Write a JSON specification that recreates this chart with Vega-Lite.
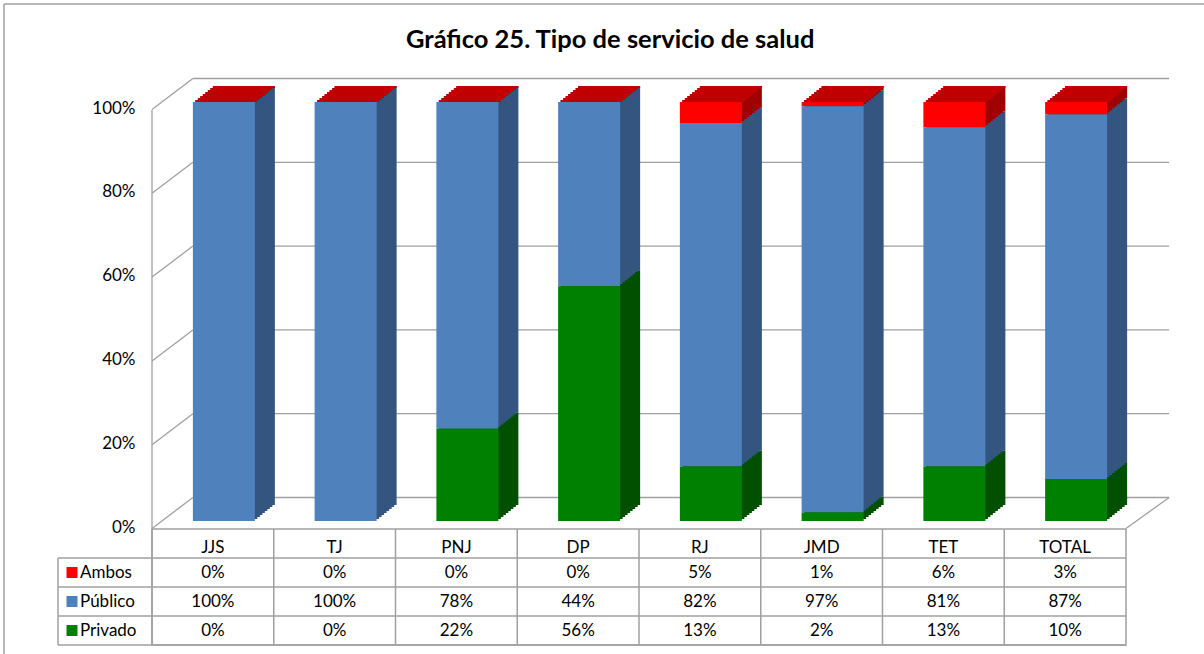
{
  "$schema": "https://vega.github.io/schema/vega-lite/v6.json",
  "padding": {"left": 2, "top": 3, "right": 0, "bottom": 0},
  "background": "white",
  "bounds": "flush",
  "title": {"text": "Gráfico 25. Tipo de servicio de salud", "font": "Lato", "fontSize": 25.5, "fontWeight": "bold", "color": "black", "anchor": "middle", "offset": -50, "dx": 5},
  "datasets": {
    "tabla": [
      {"cat": "JJS", "serie": "Ambos", "orden": 3, "valor": 0},
      {"cat": "JJS", "serie": "Público", "orden": 2, "valor": 1},
      {"cat": "JJS", "serie": "Privado", "orden": 1, "valor": 0},
      {"cat": "TJ", "serie": "Ambos", "orden": 3, "valor": 0},
      {"cat": "TJ", "serie": "Público", "orden": 2, "valor": 1},
      {"cat": "TJ", "serie": "Privado", "orden": 1, "valor": 0},
      {"cat": "PNJ", "serie": "Ambos", "orden": 3, "valor": 0},
      {"cat": "PNJ", "serie": "Público", "orden": 2, "valor": 0.78},
      {"cat": "PNJ", "serie": "Privado", "orden": 1, "valor": 0.22},
      {"cat": "DP", "serie": "Ambos", "orden": 3, "valor": 0},
      {"cat": "DP", "serie": "Público", "orden": 2, "valor": 0.44},
      {"cat": "DP", "serie": "Privado", "orden": 1, "valor": 0.56},
      {"cat": "RJ", "serie": "Ambos", "orden": 3, "valor": 0.05},
      {"cat": "RJ", "serie": "Público", "orden": 2, "valor": 0.82},
      {"cat": "RJ", "serie": "Privado", "orden": 1, "valor": 0.13},
      {"cat": "JMD", "serie": "Ambos", "orden": 3, "valor": 0.01},
      {"cat": "JMD", "serie": "Público", "orden": 2, "valor": 0.97},
      {"cat": "JMD", "serie": "Privado", "orden": 1, "valor": 0.02},
      {"cat": "TET", "serie": "Ambos", "orden": 3, "valor": 0.06},
      {"cat": "TET", "serie": "Público", "orden": 2, "valor": 0.81},
      {"cat": "TET", "serie": "Privado", "orden": 1, "valor": 0.13},
      {"cat": "TOTAL", "serie": "Ambos", "orden": 3, "valor": 0.03},
      {"cat": "TOTAL", "serie": "Público", "orden": 2, "valor": 0.87},
      {"cat": "TOTAL", "serie": "Privado", "orden": 1, "valor": 0.10}
    ],
    "rejilla": [{"v": 0}, {"v": 0.2}, {"v": 0.4}, {"v": 0.6}, {"v": 0.8}, {"v": 1}]
  },
  "config": {
    "view": {"stroke": null},
    "font": "Lato",
    "numberFormat": ".0%",
    "axisY": {"labelFont": "Lato", "labelFontSize": 17, "labelColor": "black", "ticks": false, "domain": false, "grid": false, "labelPadding": 17, "labelOffset": 6, "tickCount": 5, "title": null},
    "axisXBand": {"disable": true},
    "axisYBand": {"disable": true},
    "axisX": {"disable": true}
  },
  "spacing": 8,
  "vconcat": [
    {
      "width": 974,
      "height": 419,
      "data": {"name": "tabla"},
      "layer": [
        {"data": {"name": "rejilla"}, "mark": {"type": "rule", "color": "#A0A0A0", "strokeWidth": 1.3, "xOffset": 41, "x2Offset": 104, "yOffset": -23.5, "y2Offset": -23.5},
         "encoding": {"x": {"datum": "JJS", "type": "nominal", "bandPosition": 0, "scale": {"domain": ["JJS", "TJ", "PNJ", "DP", "RJ", "JMD", "TET", "TOTAL"], "paddingInner": 0, "paddingOuter": 0}}, "x2": {"datum": "TOTAL"}, "y": {"field": "v", "type": "quantitative", "scale": {"domain": [0, 1]}, "title": null}, "y2": {"field": "v"}}},
        {"data": {"name": "rejilla"}, "mark": {"type": "rule", "color": "#A0A0A0", "strokeWidth": 1.3, "yOffset": 7.5, "x2Offset": -20, "y2Offset": -23.5},
         "encoding": {"x": {"datum": "JJS", "type": "nominal", "bandPosition": 0}, "x2": {"datum": "JJS"}, "y": {"field": "v", "type": "quantitative", "title": null}, "y2": {"field": "v"}}},
        {"data": {"values": [{}]}, "mark": {"type": "rule", "color": "#A0A0A0", "strokeWidth": 1.3, "yOffset": 7.5, "y2Offset": 8},
         "encoding": {"x": {"datum": "JJS", "type": "nominal", "bandPosition": 0}, "y": {"datum": 0, "type": "quantitative", "title": null}, "y2": {"datum": 1}}},
        {"data": {"values": [{}]}, "mark": {"type": "rule", "color": "#A0A0A0", "strokeWidth": 1.3, "yOffset": 7.5, "x2Offset": 104, "y2Offset": -23.5},
         "encoding": {"x": {"datum": "TOTAL", "type": "nominal", "bandPosition": 1}, "x2": {"datum": "TOTAL"}, "y": {"datum": 0, "type": "quantitative", "title": null}, "y2": {"datum": 0}}},
        {"data": {"values": [{}]}, "mark": {"type": "rule", "color": "#A0A0A0", "strokeWidth": 1.5, "xOffset": -148, "x2Offset": 142, "yOffset": -98, "y2Offset": -98},
         "encoding": {"x": {"datum": "JJS", "type": "nominal", "bandPosition": 0}, "x2": {"datum": "TOTAL"}, "y": {"datum": 1, "type": "quantitative", "title": null}, "y2": {"datum": 1}}},
        {"data": {"values": [{}]}, "mark": {"type": "rule", "color": "#A0A0A0", "strokeWidth": 1.5, "xOffset": -148, "yOffset": -98, "y2Offset": 8},
         "encoding": {"x": {"datum": "JJS", "type": "nominal", "bandPosition": 0}, "y": {"datum": 1, "type": "quantitative", "title": null}, "y2": {"datum": 0}}},

        {"mark": {"type": "bar", "width": 62, "xOffset": 31, "yOffset": -16, "y2Offset": -16},
         "encoding": {"x": {"field": "cat", "type": "nominal"}, "y": {"field": "valor", "type": "quantitative", "stack": "zero", "title": null}, "order": {"field": "orden"}, "fill": {"field": "serie", "type": "nominal", "scale": {"domain": ["Ambos", "Público", "Privado"], "range": ["#A00000", "#34557F", "#005000"]}, "legend": null}}},
        {"transform": [{"filter": "datum.serie === 'Ambos'"}], "mark": {"type": "bar", "width": 62, "xOffset": 31, "yOffset": -16, "y2Offset": -14, "color": "#C00000"},
         "encoding": {"x": {"field": "cat", "type": "nominal"}, "y": {"datum": 1, "type": "quantitative", "title": null}, "y2": {"datum": 1}}},
        {"mark": {"type": "bar", "width": 62, "xOffset": 28.5, "yOffset": -14, "y2Offset": -14},
         "encoding": {"x": {"field": "cat", "type": "nominal"}, "y": {"field": "valor", "type": "quantitative", "stack": "zero", "title": null}, "order": {"field": "orden"}, "fill": {"field": "serie", "type": "nominal", "legend": null}}},
        {"transform": [{"filter": "datum.serie === 'Ambos'"}], "mark": {"type": "bar", "width": 62, "xOffset": 28.5, "yOffset": -14, "y2Offset": -12, "color": "#C00000"},
         "encoding": {"x": {"field": "cat", "type": "nominal"}, "y": {"datum": 1, "type": "quantitative", "title": null}, "y2": {"datum": 1}}},
        {"mark": {"type": "bar", "width": 62, "xOffset": 26, "yOffset": -12, "y2Offset": -12},
         "encoding": {"x": {"field": "cat", "type": "nominal"}, "y": {"field": "valor", "type": "quantitative", "stack": "zero", "title": null}, "order": {"field": "orden"}, "fill": {"field": "serie", "type": "nominal", "legend": null}}},
        {"transform": [{"filter": "datum.serie === 'Ambos'"}], "mark": {"type": "bar", "width": 62, "xOffset": 26, "yOffset": -12, "y2Offset": -10, "color": "#C00000"},
         "encoding": {"x": {"field": "cat", "type": "nominal"}, "y": {"datum": 1, "type": "quantitative", "title": null}, "y2": {"datum": 1}}},
        {"mark": {"type": "bar", "width": 62, "xOffset": 23.5, "yOffset": -10, "y2Offset": -10},
         "encoding": {"x": {"field": "cat", "type": "nominal"}, "y": {"field": "valor", "type": "quantitative", "stack": "zero", "title": null}, "order": {"field": "orden"}, "fill": {"field": "serie", "type": "nominal", "legend": null}}},
        {"transform": [{"filter": "datum.serie === 'Ambos'"}], "mark": {"type": "bar", "width": 62, "xOffset": 23.5, "yOffset": -10, "y2Offset": -8, "color": "#C00000"},
         "encoding": {"x": {"field": "cat", "type": "nominal"}, "y": {"datum": 1, "type": "quantitative", "title": null}, "y2": {"datum": 1}}},
        {"mark": {"type": "bar", "width": 62, "xOffset": 21, "yOffset": -8, "y2Offset": -8},
         "encoding": {"x": {"field": "cat", "type": "nominal"}, "y": {"field": "valor", "type": "quantitative", "stack": "zero", "title": null}, "order": {"field": "orden"}, "fill": {"field": "serie", "type": "nominal", "legend": null}}},
        {"transform": [{"filter": "datum.serie === 'Ambos'"}], "mark": {"type": "bar", "width": 62, "xOffset": 21, "yOffset": -8, "y2Offset": -6, "color": "#C00000"},
         "encoding": {"x": {"field": "cat", "type": "nominal"}, "y": {"datum": 1, "type": "quantitative", "title": null}, "y2": {"datum": 1}}},
        {"mark": {"type": "bar", "width": 62, "xOffset": 18.5, "yOffset": -6, "y2Offset": -6},
         "encoding": {"x": {"field": "cat", "type": "nominal"}, "y": {"field": "valor", "type": "quantitative", "stack": "zero", "title": null}, "order": {"field": "orden"}, "fill": {"field": "serie", "type": "nominal", "legend": null}}},
        {"transform": [{"filter": "datum.serie === 'Ambos'"}], "mark": {"type": "bar", "width": 62, "xOffset": 18.5, "yOffset": -6, "y2Offset": -4, "color": "#C00000"},
         "encoding": {"x": {"field": "cat", "type": "nominal"}, "y": {"datum": 1, "type": "quantitative", "title": null}, "y2": {"datum": 1}}},
        {"mark": {"type": "bar", "width": 62, "xOffset": 16, "yOffset": -4, "y2Offset": -4},
         "encoding": {"x": {"field": "cat", "type": "nominal"}, "y": {"field": "valor", "type": "quantitative", "stack": "zero", "title": null}, "order": {"field": "orden"}, "fill": {"field": "serie", "type": "nominal", "legend": null}}},
        {"transform": [{"filter": "datum.serie === 'Ambos'"}], "mark": {"type": "bar", "width": 62, "xOffset": 16, "yOffset": -4, "y2Offset": -2, "color": "#C00000"},
         "encoding": {"x": {"field": "cat", "type": "nominal"}, "y": {"datum": 1, "type": "quantitative", "title": null}, "y2": {"datum": 1}}},
        {"mark": {"type": "bar", "width": 62, "xOffset": 13.5, "yOffset": -2, "y2Offset": -2},
         "encoding": {"x": {"field": "cat", "type": "nominal"}, "y": {"field": "valor", "type": "quantitative", "stack": "zero", "title": null}, "order": {"field": "orden"}, "fill": {"field": "serie", "type": "nominal", "legend": null}}},
        {"transform": [{"filter": "datum.serie === 'Ambos'"}], "mark": {"type": "bar", "width": 62, "xOffset": 13.5, "yOffset": -2, "y2Offset": 0, "color": "#C00000"},
         "encoding": {"x": {"field": "cat", "type": "nominal"}, "y": {"datum": 1, "type": "quantitative", "title": null}, "y2": {"datum": 1}}},

        {"mark": {"type": "bar", "width": 62, "xOffset": 11},
         "encoding": {"x": {"field": "cat", "type": "nominal"}, "y": {"field": "valor", "type": "quantitative", "stack": "zero", "title": null}, "order": {"field": "orden"}, "color": {"field": "serie", "type": "nominal", "scale": {"domain": ["Ambos", "Público", "Privado"], "range": ["#FF0000", "#4F81BD", "#008000"]}, "legend": null}}}
      ]
    },
    {
      "width": 974,
      "height": 116,
      "view": {"stroke": "#A0A0A0", "strokeWidth": 1.5},
      "data": {"name": "tabla"},
      "layer": [
        {"transform": [{"filter": "datum.serie === 'Ambos'"}], "mark": {"type": "rule", "color": "#A0A0A0", "strokeWidth": 1.5},
         "encoding": {"x": {"field": "cat", "type": "nominal", "bandPosition": 0, "scale": {"domain": ["JJS", "TJ", "PNJ", "DP", "RJ", "JMD", "TET", "TOTAL"], "paddingInner": 0, "paddingOuter": 0}}}},
        {"transform": [{"filter": "datum.cat === 'JJS'"}], "mark": {"type": "rule", "color": "#A0A0A0", "strokeWidth": 1.5, "xOffset": -94, "x2Offset": 61},
         "encoding": {"x": {"datum": "JJS", "type": "nominal", "bandPosition": 0}, "x2": {"datum": "TOTAL"}, "y": {"field": "serie", "type": "nominal", "bandPosition": 0, "scale": {"domain": ["hdr", "Ambos", "Público", "Privado"], "paddingInner": 0, "paddingOuter": 0}}}},
        {"data": {"values": [{}]}, "mark": {"type": "rule", "color": "#A0A0A0", "strokeWidth": 1.5, "xOffset": -94, "x2Offset": 61},
         "encoding": {"x": {"datum": "JJS", "type": "nominal", "bandPosition": 0}, "x2": {"datum": "TOTAL"}, "y": {"datum": "Privado", "type": "nominal", "bandPosition": 1}}},
        {"data": {"values": [{}]}, "mark": {"type": "rule", "color": "#A0A0A0", "strokeWidth": 1.5, "xOffset": -94},
         "encoding": {"x": {"datum": "JJS", "type": "nominal", "bandPosition": 0}, "y": {"datum": "Ambos", "type": "nominal", "bandPosition": 0}, "y2": {"value": "height"}}},
        {"data": {"values": [{}]}, "mark": {"type": "rule", "color": "#A0A0A0", "strokeWidth": 1.5, "xOffset": -148, "y2Offset": 9},
         "encoding": {"x": {"datum": "JJS", "type": "nominal", "bandPosition": 0}, "y": {"datum": "hdr", "type": "nominal", "bandPosition": 0}, "y2": {"value": "height"}}},
        {"transform": [{"filter": "datum.serie === 'Ambos'"}], "mark": {"type": "text", "fontSize": 17, "color": "black", "dy": 4},
         "encoding": {"x": {"field": "cat", "type": "nominal"}, "y": {"datum": "hdr", "type": "nominal"}, "text": {"field": "cat"}}},
        {"mark": {"type": "text", "fontSize": 17, "color": "black"},
         "encoding": {"x": {"field": "cat", "type": "nominal"}, "y": {"field": "serie", "type": "nominal"}, "text": {"field": "valor", "type": "quantitative", "format": ".0%"}}},
        {"transform": [{"filter": "datum.cat === 'JJS'"}], "mark": {"type": "square", "size": 121, "opacity": 1, "xOffset": -80},
         "encoding": {"x": {"datum": "JJS", "type": "nominal", "bandPosition": 0}, "y": {"field": "serie", "type": "nominal"}, "color": {"field": "serie", "type": "nominal", "scale": {"domain": ["Ambos", "Público", "Privado"], "range": ["#FF0000", "#4F81BD", "#008000"]}, "legend": null}}},
        {"transform": [{"filter": "datum.cat === 'JJS'"}], "mark": {"type": "text", "fontSize": 17, "color": "black", "align": "left", "xOffset": -72},
         "encoding": {"x": {"datum": "JJS", "type": "nominal", "bandPosition": 0}, "y": {"field": "serie", "type": "nominal"}, "text": {"field": "serie"}}}
      ]
    }
  ]
}
